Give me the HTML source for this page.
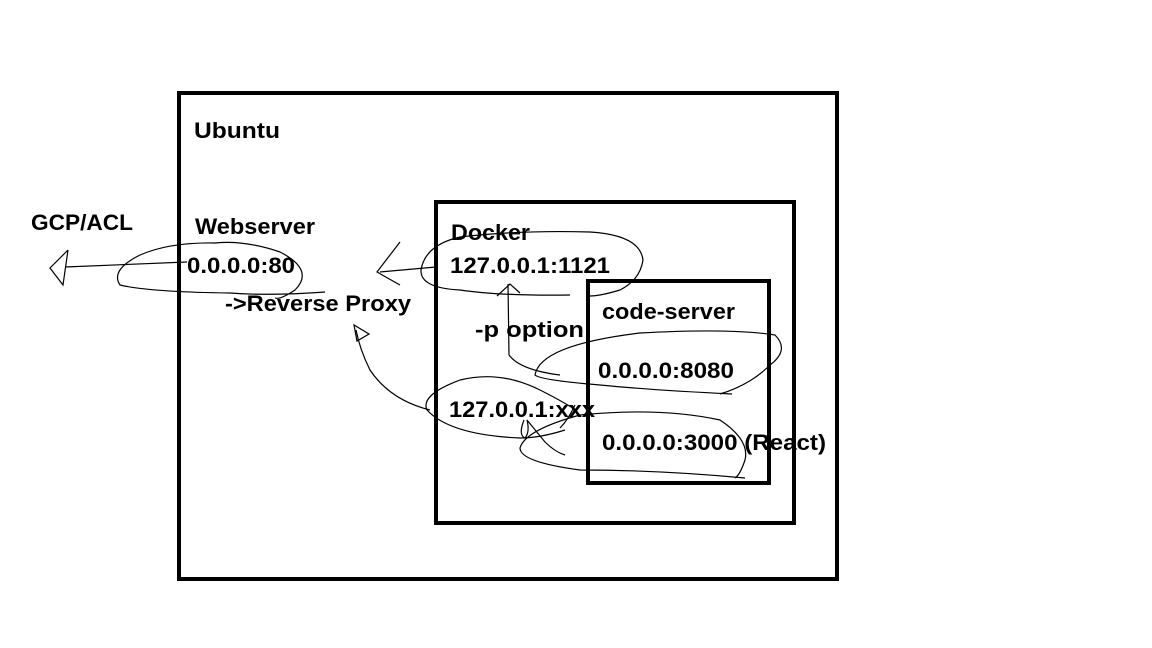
<!DOCTYPE html>
<html><head><meta charset="utf-8"><style>
html,body{margin:0;padding:0;background:#fff;}
svg{display:block}
text{font-family:"Liberation Sans",sans-serif;font-weight:bold;font-size:22px;fill:#000}
</style></head><body>
<svg width="1152" height="648" viewBox="0 0 1152 648" xmlns="http://www.w3.org/2000/svg">
<rect x="0" y="0" width="1152" height="648" fill="#fff"/>
<g fill="none" stroke="#000" stroke-width="4">
<rect x="179" y="93" width="658" height="486"/>
<rect x="436" y="202" width="358" height="321"/>
<rect x="588" y="281" width="181" height="202"/>
</g>
<g fill="none" stroke="#000" stroke-width="1.2">
<path d="M325 292 Q270 296 230 293 Q150 292 120 285 Q110 270 140 255 Q170 242 215 243 Q245 240 280 252 Q315 270 295 290 Q280 300 275 298"/>
<path d="M187 262 L65 267"/>
<path d="M68 250 L50 268 L63 285 L68 250"/>
<path d="M570 295 Q500 296 460 290 Q420 288 421 270 Q425 245 460 237 Q520 230 590 232 Q640 235 643 260 Q640 280 620 290 Q600 296 590 296"/>
<path d="M436 267 L380 272"/>
<path d="M400 242 L377 272 L400 285"/>
<path d="M508 284 L509 355 Q520 370 560 375"/>
<path d="M497 296 L510 284 L520 293"/>
<path d="M732 394 Q650 390 600 385 Q540 380 535 375 Q540 345 640 333 Q730 328 775 335 Q790 350 770 365 Q750 385 720 394"/>
<path d="M576 410 Q560 400 540 390 Q500 370 460 380 Q420 395 427 410 Q450 435 520 438 Q540 438 565 430"/>
<path d="M430 410 Q390 400 370 370 Q360 350 356 330"/>
<path d="M354 325 L357 341 L369 334 Z"/>
<path d="M745 478 Q660 470 580 470 Q520 462 520 448 Q525 430 580 415 Q660 407 720 420 Q750 440 745 460 Q740 475 735 478"/>
<path d="M524 420 Q518 435 525 438 Q530 432 527 420 L545 442 Q555 452 565 455"/>
<path d="M575 405 Q568 420 560 428"/>
</g>
<g>
<text x="194" y="138" textLength="86" lengthAdjust="spacingAndGlyphs">Ubuntu</text>
<text x="31" y="230" textLength="102" lengthAdjust="spacingAndGlyphs">GCP/ACL</text>
<text x="195" y="234" textLength="120" lengthAdjust="spacingAndGlyphs">Webserver</text>
<text x="187" y="273" textLength="108" lengthAdjust="spacingAndGlyphs">0.0.0.0:80</text>
<text x="225" y="311" textLength="186" lengthAdjust="spacingAndGlyphs">-&gt;Reverse Proxy</text>
<text x="451" y="240" textLength="79" lengthAdjust="spacingAndGlyphs">Docker</text>
<text x="450" y="273" textLength="160" lengthAdjust="spacingAndGlyphs">127.0.0.1:1121</text>
<text x="475" y="337" textLength="109" lengthAdjust="spacingAndGlyphs">-p option</text>
<text x="602" y="319" textLength="133" lengthAdjust="spacingAndGlyphs">code-server</text>
<text x="598" y="378" textLength="136" lengthAdjust="spacingAndGlyphs">0.0.0.0:8080</text>
<text x="449" y="417" textLength="146" lengthAdjust="spacingAndGlyphs">127.0.0.1:xxx</text>
<text x="602" y="450" textLength="224" lengthAdjust="spacingAndGlyphs">0.0.0.0:3000 (React)</text>
</g>
</svg>
</body></html>
